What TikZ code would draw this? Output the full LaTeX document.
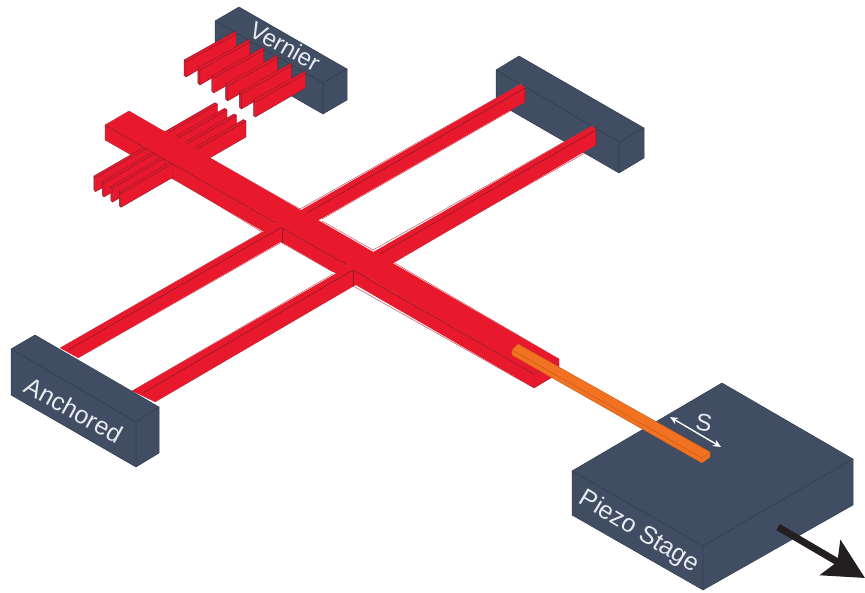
\documentclass[tikz,border=0pt]{standalone}
\usepackage{fontspec}
\setmainfont{Liberation Sans}
\usepackage{tikz}
\usetikzlibrary{arrows.meta}
\definecolor{slate}{RGB}{64, 77, 99}
\definecolor{slateline}{RGB}{52, 62, 80}
\definecolor{beamred}{RGB}{232, 25, 44}
\definecolor{beamline}{RGB}{145, 28, 42}
\definecolor{beamedge}{RGB}{190, 50, 62}
\definecolor{probe}{RGB}{243, 114, 33}
\definecolor{probeline}{RGB}{200, 92, 28}
\definecolor{labelgray}{RGB}{232, 235, 240}
\definecolor{pusharrow}{RGB}{35, 31, 32}
\newcommand*{\fs}{24}

\begin{document}
\begin{tikzpicture}[
   x=1pt, y=-1pt,
   block/.style={fill=slate, draw=slateline, line width=0.5, line join=round},
   redfill/.style={fill=beamred},
   redface/.style={fill=beamred, draw=beamline, line width=0.4, line join=round},
   inner/.style={draw=beamline, line width=0.6},
   edge/.style={draw=beamedge, line width=0.4},
   orangeface/.style={fill=probe, draw=probeline, line width=0.4, line join=round},
   blocklabel/.style={text=labelgray, inner sep=0, font=\fontsize{\fs}{28}\selectfont}
  ]
  \useasboundingbox (0, 0) rectangle (865, 593);

  % Finger Spacing
  \pgfmathsetmacro{\dx}{13.85}
  \pgfmathsetmacro{\dy}{8}

  % Vernier block
  \draw[block] (215, 21) -- (239, 7) -- (347, 69) -- (323, 83) -- cycle;
  \draw[block] (215, 21) -- (323, 83) -- (323, 114) -- (215, 52) -- cycle;
  \draw[block] (323, 83) -- (347, 69) -- (347, 100) -- (323, 114) -- cycle;
  \node (vernier) at (285, 46) [blocklabel, rotate=-29] {Vernier};

  \foreach \i in {0, ..., 5} {
    \begin{scope}[shift={(\i * \dx, \i * \dy)}]
      \draw[redface] (184, 60) -- (186, 62) -- (186, 77) -- (184, 75) -- cycle;
      \draw[redface] (186, 62) -- (236, 34) -- (236, 48) -- (186, 77) -- cycle;
      \draw[redface] (184, 60) -- (236, 31) -- (236, 34) -- (186, 62) -- cycle;
    \end{scope}
  }

  % Comb behind the bar
  \foreach \i in {0, ..., 3} {
    \begin{scope}[shift={(\i * 9.5, \i * 5.6)}]
      \draw[redface] (217.5, 104.2) -- (217.5, 120.2) -- (157.5, 154.8) -- (157.5, 138.8) -- cycle;
      \draw[redface] (215, 102.7) -- (217.5, 104.2) -- (157.5, 138.8) -- (155, 137.3) -- cycle;
    \end{scope}
  }

  % Far block
  \draw[block] (496, 70) -- (519, 56) -- (644, 128) -- (619, 142) -- cycle;
  \draw[block] (496, 70) -- (619, 142) -- (619, 173) -- (496, 102) -- cycle;
  \draw[block] (619, 142) -- (644, 128) -- (644, 158) -- (619, 173) -- cycle;

  % Bar front, near comb, beams
  \fill[redfill] (105, 125) -- (534, 374) -- (534, 388) -- (105, 140) -- cycle;

  \foreach \i in {0, ..., 3} {
    \begin{scope}[shift={(\i * 8.5, \i * 5.2)}]
      \draw[redface] (93.8, 176.1) -- (95.5, 177.7) -- (95.5, 191.7) -- (93.8, 190) -- cycle;
      \draw[redface] (95.5, 177.7) -- (95.5, 191.7) -- (147.5, 161.7) -- (147.5, 147.7) -- cycle;
      \draw[redface] (93.8, 176.1) -- (95.5, 177.7) -- (147.5, 147.7) -- (145.8, 146.1) -- cycle;
    \end{scope}
  }

  \fill[redfill] (60, 348) -- (521, 84) -- (525, 88) -- (525, 102) -- (78, 358) -- cycle;
  \fill[redfill] (132, 391) -- (592, 126) -- (596, 130) -- (596, 145) -- (155, 402) -- cycle;

  % Bar top and end
  \fill[redfill] (105, 125) -- (129, 111) -- (559, 359) -- (534, 374) -- cycle;
  \draw[redface] (534, 374) -- (559, 359) -- (559, 373) -- (534, 388) -- cycle;

  % Beam lines
  \draw[inner] (68, 350) -- (282, 227) (307, 213) -- (525, 88) -- (525, 102);
  \draw[inner] (143, 393) -- (353, 270) (380, 254) -- (596, 130) -- (596, 145);
  \draw[edge] (60, 348) -- (262, 232) (300, 209) -- (521, 84) -- (525, 88);
  \draw[edge] (78, 358) -- (282, 242) (322, 219) -- (512, 110);
  \draw[edge] (132, 391) -- (333, 274) (373, 250) -- (592, 126) -- (596, 130);
  \draw[edge] (155, 402) -- (353, 286) (393, 261) -- (585, 153);

  % Bar lines
  \draw[inner] (105, 125) -- (275, 223) (282, 228) -- (347, 265) (353, 270) -- (534, 374);
  \draw[inner] (282, 228) -- (282, 243) (353, 270) -- (353, 286);
  \draw[edge] (105, 125) -- (129, 111) -- (167, 133) (210, 158) -- (300, 209);
  \draw[edge] (322, 221) -- (373, 250) (393, 262) -- (559, 359);
  \draw[edge] (105, 125) -- (105, 140) -- (137, 158) (173, 178) -- (262, 232);
  \draw[edge] (282, 243) -- (333, 272) (353, 286) -- (534, 388);

  % Anchored block
  \draw[block] (11, 349) -- (35, 335) -- (159, 407) -- (136, 422) -- cycle;
  \draw[block] (11, 349) -- (136, 422) -- (136, 467) -- (11, 395) -- cycle;
  \draw[block] (136, 422) -- (159, 407) -- (159, 453) -- (136, 467) -- cycle;
  \node (anchored) at (74, 410) [blocklabel, rotate=-29, font=\fontsize{25}{28}\selectfont] {Anchored};

  % Piezo stage
  \draw[block] (572, 471) -- (722, 383) -- (853, 459) -- (703, 546) -- cycle;
  \draw[block] (572, 471) -- (703, 546) -- (703, 590) -- (572, 515) -- cycle;
  \draw[block] (703, 546) -- (853, 459) -- (853, 505) -- (703, 590) -- cycle;
  \node (piezo) at (639, 532) [blocklabel, rotate=-31, font=\fontsize{25}{28}\selectfont] {Piezo Stage};

  % Probe
  \draw[orangeface] (512, 350) -- (702, 458) -- (702, 463) -- (512, 355) -- cycle;
  \draw[orangeface] (702, 458) -- (710, 452) -- (710, 457) -- (702, 463) -- cycle;
  \draw[orangeface] (518, 344) -- (710, 452) -- (702, 458) -- (512, 350) -- cycle;

  % Arrows
  \coordinate (sa) at (670, 417);
  \coordinate (sb) at (721, 447);
  \draw[{Stealth[length=8, width=7]}-{Stealth[length=8, width=7]}, white, line width=1.4] (sa) -- (sb);
  \node (slabel) at (704, 423) [blocklabel, rotate=-10] {S};

  \coordinate (pa) at (778, 527);
  \coordinate (pb) at (865, 578);
  \draw[-{Stealth[length=40, width=40, inset=8]}, pusharrow, line width=7] (pa) -- (pb);

\end{tikzpicture}
\end{document}
